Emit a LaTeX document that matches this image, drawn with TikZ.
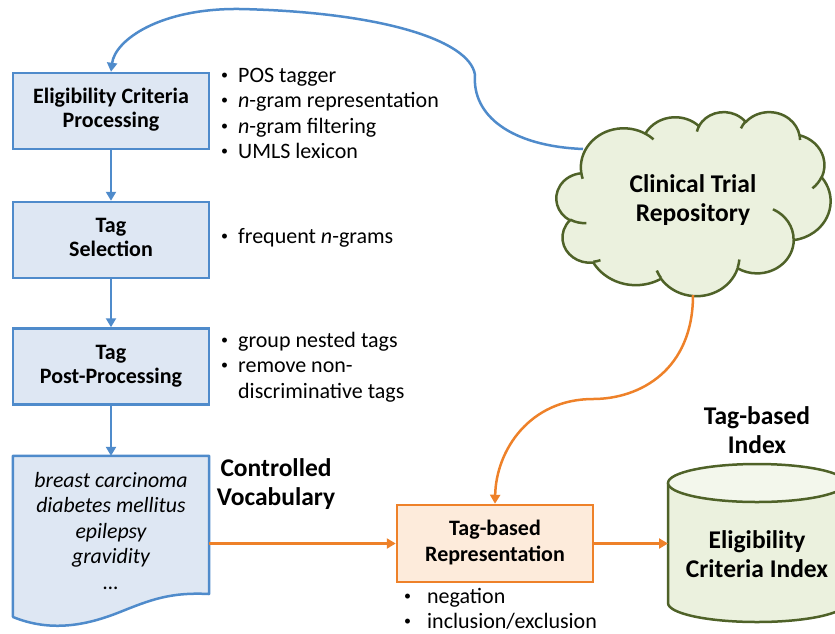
\documentclass[tikz,border=0pt]{standalone}
\usepackage{fontspec}
\setmainfont{Carlito}
\usetikzlibrary{arrows.meta}

\definecolor{flowblue}{HTML}{4F8BCB}
\definecolor{flowbluefill}{HTML}{DEE7F3}
\definecolor{floworange}{HTML}{EE8129}
\definecolor{floworangefill}{HTML}{FDEBDB}
\definecolor{olive}{HTML}{4F6228}
\definecolor{olivefill}{HTML}{EBF1DE}
\definecolor{olivetop}{HTML}{F3F7EC}

% small list bullet
\newcommand{\itemdot}{\raisebox{2.6pt}{\fontsize{14}{14}\selectfont •}}
% bullet list: bullet column, gap, text column
\newcommand{\bulletrows}[2][10pt]{\begin{tabular}[t]{@{}l@{\hspace{#1}}l@{}}#2\end{tabular}}
\newcommand{\centrows}[1]{\begin{tabular}[t]{@{}c@{}}#1\end{tabular}}

% elliptic arc given by radii and visual start/sweep angles
\newcommand{\cloudangles}[4]{%
  \pgfmathsetmacro\cloudta{atan2((#1)*sin(#3),(#2)*cos(#3))}%
  \pgfmathsetmacro\cloudtb{atan2((#1)*sin((#3)+(#4)),(#2)*cos((#3)+(#4)))}%
  \pgfmathsetmacro\cloudtd{\cloudtb-\cloudta}%
  \pgfmathsetmacro\cloudtd{(#4)>0 ? (\cloudtd<0 ? \cloudtd+360 : \cloudtd) : (\cloudtd>0 ? \cloudtd-360 : \cloudtd)}%
  \global\let\cloudta\cloudta
  \global\let\cloudtd\cloudtd}
\newcommand{\cloudpuff}[4]{\pgfextra{\cloudangles{#1}{#2}{#3}{#4}}
  arc[start angle=\cloudta, delta angle=\cloudtd, x radius=#1, y radius=#2]}

\tikzset{
  stagebox/.style={draw=flowblue, fill=flowbluefill, line width=2.5pt,
    minimum width=196pt, minimum height=76pt, inner sep=0pt,
    font=\fontsize{22}{24}\selectfont\bfseries},
  reprbox/.style={draw=floworange, fill=floworangefill, line width=2.5pt,
    minimum width=196pt, minimum height=77pt, inner sep=0pt,
    font=\fontsize{22}{26}\selectfont\bfseries},
  bluearrow/.style={draw=flowblue, line width=2.5pt, -{Triangle[length=9pt,width=10pt]}},
  orangearrow/.style={draw=floworange, line width=2.5pt, -{Triangle[length=9pt,width=10pt]}},
  notes/.style={anchor=base west, inner sep=0pt, font=\fontsize{22}{25.5}\selectfont},
  heading/.style={anchor=base, inner sep=0pt, font=\fontsize{25.5}{29}\selectfont\bfseries},
  vocabtext/.style={anchor=base, inner sep=0pt, font=\fontsize{21.8}{25.5}\selectfont\itshape},
  cloudline/.style={draw=olive, line width=2.5pt, line join=round},
}

\begin{document}
\begin{tikzpicture}[x=1pt, y=-1pt]
  \path[use as bounding box] (0,0) rectangle (835,633);
  \clip (0,0) rectangle (835,633);

  % processing pipeline
  \node[stagebox] (ecp)  at (111,111)   {\centrows{Eligibility Criteria\\ Processing}};
  \node[stagebox] (tsel) at (111,240)   {\centrows{Tag\\ Selection}};
  \node[stagebox] (tpp)  at (111,366.5) {\centrows{Tag\\ Post-Processing}};

  % controlled vocabulary (document shape)
  \node[minimum width=196pt, minimum height=161pt, inner sep=0pt] (vocab) at (111,536.5) {};
  \draw[draw=flowblue, fill=flowbluefill, line width=2.5pt, line join=round]
    (vocab.north west) -- (vocab.north east) -- (209,594)
    .. controls (170,592) and (150,600) .. (120,612)
    .. controls (85,626) and (50,632) .. (13,617) -- cycle;
  \node[vocabtext] (vocablist) at (111,487)
    {\centrows{breast carcinoma\\ diabetes mellitus\\ epilepsy\\ gravidity\\ …}};
  \node[heading] (vocabtitle) at (276,476) {\centrows{Controlled\\ Vocabulary}};

  % notes beside the stages
  \node[notes] (ecpnotes) at (221,82) {\bulletrows{%
    \itemdot & POS tagger\\
    \itemdot & \textit{n}-gram representation\\
    \itemdot & \textit{n}-gram filtering\\
    \itemdot & UMLS lexicon}};
  \node[notes] (tselnotes) at (221,243) {\bulletrows{%
    \itemdot & frequent \textit{n}-grams}};
  \node[notes] (tppnotes) at (221,347) {\bulletrows{%
    \itemdot & group nested tags\\
    \itemdot & remove non-\\
             & discriminative tags}};

  % repository cloud, drawn in a 432 x 432 frame
  \begin{scope}[shift={(556.5,111.5)}, x=0.63426pt, y=-0.42593pt]
    \path[cloudline, fill=olivefill] (39.00,143.70)
      \cloudpuff{67.53}{91.90}{-190.4875}{123.7805}
      \cloudpuff{53.33}{72.67}{-144.1024}{89.9452}
      \cloudpuff{43.65}{59.45}{-145.8079}{99.7230}
      \cloudpuff{48.57}{65.95}{-130.9861}{117.2417}
      \cloudpuff{53.33}{72.73}{-78.7089}{109.0269}
      \cloudpuff{67.75}{92.20}{-46.2673}{130.2690}
      \cloudpuff{57.85}{78.67}{0.6250}{114.0333}
      \cloudpuff{67.52}{92.15}{22.4516}{115.1726}
      \cloudpuff{77.20}{105.43}{66.2426}{75.7110}
      \cloudpuff{43.60}{59.18}{-274.9421}{146.7356}
      \cloudpuff{43.45}{59.45}{-246.8285}{152.5189}
      -- cycle;
    \path[cloudline]
      (46.93,261.77)  \cloudpuff{43.45}{59.45}{86.7420}{26.4295}
      (69.28,348.99)  \cloudpuff{43.60}{59.18}{73.6105}{11.4475}
      (164.78,390.90) \cloudpuff{67.52}{92.15}{137.6242}{14.0811}
      (288.27,347.51) \cloudpuff{67.52}{92.15}{6.4533}{15.9984}
      (341.29,229.54) \cloudpuff{57.85}{78.67}{-70.2924}{70.9174}
      (417.98,153.54) \cloudpuff{53.33}{72.73}{30.3180}{27.7515}
      (383.24,54.26)  \cloudpuff{48.57}{65.95}{-13.7443}{14.8589}
      (290.78,39.52)  \cloudpuff{48.57}{65.95}{-149.1815}{18.1954}
      (221.41,47.20)  \cloudpuff{43.65}{59.45}{-163.4943}{17.6864}
      (140.00,51.92)  \cloudpuff{67.53}{91.90}{-66.7070}{12.3194}
      (41.27,157.89)  \cloudpuff{67.53}{91.90}{157.6544}{11.8582};
  \end{scope}
  \node[heading] (repo) at (693,192) {\centrows{Clinical Trial\\ Repository}};
  \coordinate (repoleft) at (583,149);
  \coordinate (repobottom) at (693,295);

  % tag-based representation
  \node[reprbox] (rep) at (495,543.5) {\centrows{Tag-based\\ Representation}};
  \node[notes] (repnotes) at (404,603) {\bulletrows[16pt]{%
    \itemdot & negation\\
    \itemdot & inclusion/exclusion}};

  % index cylinder
  \fill[olivefill] (668,483) -- (668,603)
    arc[start angle=180, end angle=0, x radius=89, y radius=19] -- (846,483) -- cycle;
  \draw[olive, line width=2.5pt] (668,483) -- (668,603)
    arc[start angle=180, end angle=0, x radius=89, y radius=19] -- (846,483);
  \draw[olive, fill=olivetop, line width=2.5pt] (757,483) ellipse[x radius=89, y radius=19];
  \coordinate (cylleft) at (668,543.5);
  \node[heading] (idxtitle) at (757,424) {\centrows{Tag-based\\ Index}};
  \node[heading] (idxtext) at (757,548) {\centrows{Eligibility\\ Criteria Index}};

  % connectors
  \draw[bluearrow] (ecp.south) -- (tsel.north);
  \draw[bluearrow] (tsel.south) -- (tpp.north);
  \draw[bluearrow] (tpp.south) -- (vocab.north);
  \draw[bluearrow] (repoleft) .. controls (510,146) and (472,115) .. (475,75)
    .. controls (470,40) and (380,12) .. (240,9)
    .. controls (160,8) and (115,40) .. (ecp.north);
  \draw[orangearrow] (repobottom) .. controls (693,370) and (640,399) .. (593,399)
    .. controls (530,399) and (496,450) .. (rep.north);
  \draw[orangearrow] (rep.west -| vocab.east) -- (rep.west);
  \draw[orangearrow] (rep.east) -- (cylleft);
\end{tikzpicture}
\end{document}
